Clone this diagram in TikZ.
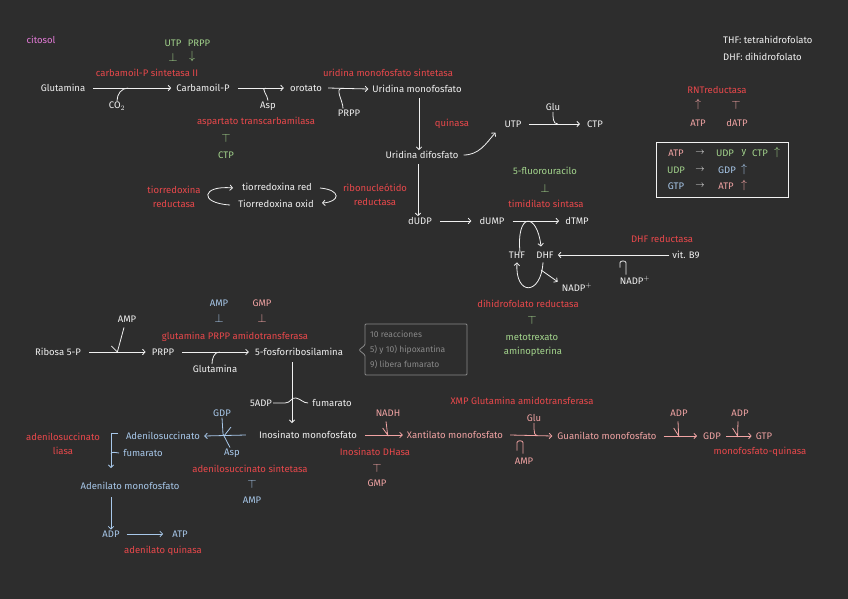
\documentclass[tikz,border=0pt]{standalone}
\usepackage{fontspec}
\setmainfont{Fira Sans}
\usepackage{tikz}
\usetikzlibrary{arrows.meta,calc,positioning}
\definecolor{fondo}{HTML}{2D2D2D}
\definecolor{ink}{HTML}{F0F0F0}
\definecolor{rojo}{HTML}{E8484B}
\definecolor{verde}{HTML}{A3D48C}
\definecolor{rosa}{HTML}{F0A3A3}
\definecolor{azul}{HTML}{A8C8EA}
\definecolor{magenta}{HTML}{E27AD6}
\definecolor{gris}{HTML}{8A8A8A}
\tikzset{
  sp/.style={text=ink,inner sep=1pt,font=\fontsize{9.5}{14}\selectfont},
  enz/.style={sp,text=rojo},
  grn/.style={sp,text=verde},
  pnk/.style={sp,text=rosa},
  blu/.style={sp,text=azul},
  mag/.style={sp,text=magenta},
  sym/.style={inner sep=0pt,font=\fontsize{12}{12}\selectfont},
  nota/.style={sp,text=gris,align=left,font=\fontsize{8.5}{15}\selectfont},
  ln/.style={draw=ink,line width=.8pt},
  rx/.style={ln,-{Straight Barb[length=2.6pt,width=5.5pt]}},
  lnp/.style={ln,draw=rosa},
  rxp/.style={rx,draw=rosa},
  lnb/.style={ln,draw=azul},
  rxb/.style={rx,draw=azul}
}
\begin{document}
\begin{tikzpicture}[x=1pt,y=1pt]
  \fill[fondo] (0,0) rectangle (848,-599);
  \useasboundingbox (0,0) rectangle (848,-599);

  % pirimidinas
  \node[mag] (citosol) at (41,-40) {citosol};
  \node[grn] (utpi) at (173,-43) {UTP};
  \node[grn] (prppa) at (199,-43) {PRPP};
  \node[grn,sym] (inh1) at (173,-57) {$\perp$};
  \node[grn,sym] (act1) at (192,-57) {$\downarrow$};
  \node[enz] (cps) at (147,-73) {carbamoil-P sintetasa II};
  \node[sp] (glutamina) at (63,-88) {Glutamina};
  \node[sp] (carbp) at (203,-88) {Carbamoil-P};
  \node[sp] (co2) at (117,-106) {CO$_2$};
  \node[sp] (orotato) at (306,-88) {orotato};
  \node[sp] (asp1) at (268,-106) {Asp};
  \node[enz] (atc) at (256,-122) {aspartato transcarbamilasa};
  \node[grn,sym] (inh2) at (226,-138) {$\top$};
  \node[grn] (ctpi) at (226,-155) {CTP};
  \node[enz] (umps) at (388,-73) {uridina monofosfato sintetasa};
  \node[sp] (ump) at (417,-89) {Uridina monofosfato};
  \node[sp] (prpp1) at (349,-113) {PRPP};
  \node[enz] (quin) at (452,-124) {quinasa};
  \node[sp] (udp) at (422,-155) {Uridina difosfato};
  \node[sp] (utp) at (513,-124) {UTP};
  \node[sp] (ctp) at (595,-124) {CTP};
  \node[sp] (glu1) at (553,-107) {Glu};

  \draw[rx] (93,-88) -- coordinate[pos=.45] (m1) ([xshift=-4pt]carbp.west);
  \draw[ln] (co2.north) to[out=90,in=180] (m1);
  \draw[rx] (carbp.east) ++(7,0) -- coordinate[pos=.6] (m2) ([xshift=-5pt]orotato.west);
  \draw[ln] (asp1.north) to[out=90,in=180] (m2);
  \draw[rx] ([xshift=5pt]orotato.east) -- coordinate[pos=.35] (m3) ([xshift=-3pt]ump.west);
  \draw[ln] (prpp1.north) ++(-6,0) to[out=90,in=180] (m3);
  \draw[rx] ([xshift=2pt]ump.south) ++(0,-4) -- ([xshift=2pt]ump.south |- udp.north);
  \draw[rx] ([xshift=4pt]udp.east) to[out=0,in=-130] ([xshift=-8pt,yshift=-4pt]utp.south west);
  \draw[rx] ([xshift=6pt]utp.east) -- coordinate[pos=.45] (m4) ([xshift=-6pt]ctp.west);
  \draw[ln] (glu1.south) to[out=-90,in=180] ([xshift=6pt]m4);

  % leyenda
  \node[sp,anchor=west] (thfdef) at (722,-40) {THF: tetrahidrofolato};
  \node[sp,anchor=west] (dhfdef) at (722,-57) {DHF: dihidrofolato};
  \node[enz] (rnt) at (717,-90) {RNTreductasa};
  \node[pnk,sym] (act2) at (698,-105) {$\uparrow$};
  \node[pnk,sym] (inh3) at (736,-105) {$\top$};
  \node[pnk] (atpr) at (698,-123) {ATP};
  \node[pnk] (datp) at (737,-123) {dATP};
  \draw[ln,draw=ink!85] (656,-142) rectangle (788,-197);
  \node[pnk] (l1a) at (676,-153) {ATP};
  \node[sp] (l1r) at (700,-153) {$\rightarrow$};
  \node[grn] (l1b) at (725,-153) {UDP};
  \node[grn] (l1y) at (744,-153) {y};
  \node[grn] (l1c) at (760,-153) {CTP};
  \node[grn,sym] (l1u) at (777,-152) {$\uparrow$};
  \node[grn] (l2a) at (676,-170) {UDP};
  \node[sp] (l2r) at (700,-170) {$\rightarrow$};
  \node[blu] (l2b) at (727,-170) {GDP};
  \node[blu,sym] (l2u) at (744,-169) {$\uparrow$};
  \node[blu] (l3a) at (676,-186) {GTP};
  \node[sp] (l3r) at (700,-186) {$\rightarrow$};
  \node[pnk] (l3b) at (726,-186) {ATP};
  \node[pnk,sym] (l3u) at (744,-185) {$\uparrow$};

  % desoxirribonucleotidos
  \node[enz,align=center] (trr) at (174,-197) {tiorredoxina\\reductasa};
  \node[sp] (trxred) at (277,-187) {tiorredoxina red};
  \node[sp] (trxox) at (276,-204) {Tiorredoxina oxid};
  \node[enz,align=center] (rnr) at (375,-195) {ribonucleótido\\reductasa};
  \draw[rx] (230,-205) .. controls (198,-203) and (202,-185) .. (233,-188);
  \draw[rx] (320,-188) .. controls (342,-190) and (340,-202) .. (322,-203);
  \node[sp] (dudp) at (420,-221) {dUDP};
  \node[sp] (dump) at (492,-221) {dUMP};
  \draw[rx] ([xshift=-4pt]udp.south) ++(0,-4) -- ([xshift=-4pt]udp.south |- dudp.north);
  \node[grn] (fu) at (545,-171) {5-fluorouracilo};
  \node[grn,sym] (inh4) at (545,-188) {$\perp$};
  \node[enz] (ts) at (546,-204) {timidilato sintasa};
  \node[sp] (dtmp) at (577,-221) {dTMP};
  \node[sp] (thf) at (517,-255) {THF};
  \node[sp] (dhf) at (545,-255) {DHF};
  \node[sp] (vitb) at (686,-255) {vit. B9};
  \node[enz] (dhfr1) at (662,-239) {DHF reductasa};
  \node[sp] (nadp2) at (635,-280) {NADP$^+$};
  \node[sp] (nadp1) at (577,-287) {NADP$^+$};
  \draw[rx] ([xshift=7pt]dudp.east) -- ([xshift=-7pt]dump.west);
  \draw[rx] ([xshift=7pt]dump.east) -- ([xshift=-5pt]dtmp.west);
  \draw[rx] (thf.north) ++(3,-2) .. controls (516,-212) and (537,-212) .. ([xshift=-4pt,yshift=4pt]dhf.north);
  \draw[rx] ([xshift=-2pt]dhf.south) ++(0,-3) .. controls (541,-296) and (515,-296) .. ([yshift=-3pt]thf.south);
  \draw[rx] (541,-270) -- ([xshift=-3pt]nadp1.north west);
  \draw[rx] ([xshift=-2pt]vitb.west) -- coordinate[pos=.5] (m5) ([xshift=3pt]dhf.east);
  \draw[ln] ([xshift=-9pt]nadp2.north) -- ++(0,12) to[out=90,in=90] ++(-6,0) -- ++(0,-5);
  \node[enz] (dhfr2) at (528,-304) {dihidrofolato reductasa};
  \node[grn,sym] (inh5) at (532,-320) {$\top$};
  \node[grn] (mtx) at (532,-337) {metotrexato};
  \node[grn] (amn) at (533,-352) {aminopterina};

  % purinas
  \node[sp] (ribosa) at (58,-352) {Ribosa 5-P};
  \node[sp] (amp1) at (127,-319) {AMP};
  \node[sp] (prpp2) at (163,-352) {PRPP};
  \node[blu] (ampi) at (219,-303) {AMP};
  \node[blu,sym] (inh6) at (219,-318) {$\perp$};
  \node[pnk] (gmpi) at (262,-303) {GMP};
  \node[pnk,sym] (inh7) at (262,-318) {$\perp$};
  \node[enz] (gpat) at (235,-337) {glutamina PRPP amidotransferasa};
  \node[sp] (fra) at (299,-352) {5-fosforribosilamina};
  \node[sp] (glutamina2) at (215,-369) {Glutamina};
  \draw[rx] ([xshift=7pt]ribosa.east) -- coordinate[pos=.5] (m6) ([xshift=-5pt]prpp2.west);
  \draw[ln] ([xshift=-3pt]amp1.south) ++(0,-4) -- (m6) -- ++(-6,6);
  \draw[rx] ([xshift=7pt]prpp2.east) -- coordinate[pos=.5] (m7) ([xshift=-5pt]fra.west);
  \draw[ln] ([xshift=-3pt]glutamina2.north) to[out=90,in=180] ([xshift=4pt]m7);
  \node[nota,anchor=west] (notas) at (369,-350) {10 reacciones\\5) y 10) hipoxantina\\9) libera fumarato};
  \draw[draw=gris,line width=.8pt,rounded corners=1pt] (365,-324) -- (467,-324) -- (467,-375) -- (365,-375) -- (365,-355) -- (359,-350) -- (365,-345) -- cycle;

  \node[sp] (sadp) at (261,-403) {5ADP};
  \node[sp] (fumarato) at (332,-403) {fumarato};
  \node[sp] (imp) at (308,-435) {Inosinato monofosfato};
  \draw[rx] (292,-362) -- (292,-423);
  \draw[ln] (sadp.east) -- (285,-403) .. controls (291,-403) and (291,-397) .. (296,-398) .. controls (301,-399) and (303,-403) .. ([xshift=-3pt]fumarato.west);

  \node[pnk] (nadh) at (388,-413) {NADH};
  \node[pnk] (xmp) at (455,-435) {Xantilato monofosfato};
  \node[enz] (impdh) at (375,-452) {Inosinato DHasa};
  \node[pnk,sym] (inh8) at (377,-468) {$\top$};
  \node[pnk] (gmpi2) at (377,-483) {GMP};
  \node[enz] (xmpat) at (522,-401) {XMP Glutamina amidotransferasa};
  \node[pnk] (glu2) at (534,-418) {Glu};
  \node[pnk] (amp3) at (524,-461) {AMP};
  \node[pnk] (gmp) at (607,-436) {Guanilato monofosfato};
  \node[pnk] (adp1) at (679,-413) {ADP};
  \node[pnk] (gdp) at (712,-436) {GDP};
  \node[pnk] (adp2) at (740,-413) {ADP};
  \node[pnk] (gtp) at (764,-436) {GTP};
  \node[enz] (mfq) at (760,-452) {monofosfato-quinasa};
  \draw[rxp] (365,-435) -- coordinate[pos=.6] (m8) ([xshift=-3pt]xmp.west);
  \draw[lnp] (nadh.south) ++(-2,-4) -- (m8) -- ++(-5,7);
  \draw[rxp] ([xshift=6pt]xmp.east) -- coordinate[pos=.55] (m9) ([xshift=-4pt]gmp.west);
  \draw[lnp] (glu2.south) -- ++(0,-6) to[out=-90,in=180] ([xshift=4pt]m9);
  \draw[lnp] (amp3.north) ++(-1,3) -- ++(0,11) to[out=90,in=90] ++(-6,0) -- ++(0,-8);
  \draw[rxp] ([xshift=6pt]gmp.east) -- coordinate[pos=.45] (m10) ([xshift=-5pt]gdp.west);
  \draw[lnp] (adp1.south) ++(-1,-4) -- (m10) -- ++(-5,8);
  \draw[rxp] ([xshift=4pt]gdp.east) -- coordinate[pos=.45] (m11) ([xshift=-3pt]gtp.west);
  \draw[lnp] (adp2.south) ++(-2,-4) -- (m11) -- ++(-5,8);

  \node[enz,align=center] (asl) at (63,-444) {adenilosuccinato\\liasa};
  \node[blu] (adsuc) at (163,-436) {Adenilosuccinato};
  \node[blu] (gdp2) at (222,-413) {GDP};
  \node[blu] (asp2) at (232,-453) {Asp};
  \node[enz] (adss) at (250,-469) {adenilosuccinato sintetasa};
  \node[blu,sym] (inh9) at (252,-484) {$\top$};
  \node[blu] (ampi2) at (252,-500) {AMP};
  \node[blu] (fum2) at (143,-453) {fumarato};
  \node[blu] (ampm) at (130,-486) {Adenilato monofosfato};
  \node[blu] (adp3) at (111,-534) {ADP};
  \node[blu] (atp3) at (180,-534) {ATP};
  \node[enz] (adk) at (163,-551) {adenilato quinasa};
  \draw[rxb] ([xshift=-12pt]imp.west) -- ([xshift=3pt]adsuc.east);
  \draw[lnb] (gdp2.south) -- (223,-434) -- ([xshift=-2pt]asp2.north);
  \draw[lnb] (224,-436) -- (231,-427);
  \draw[rxb] (118,-433) -- (111,-433) -- coordinate[pos=.6] (m12) (111,-468);
  \draw[lnb] (m12) to[out=80,in=180] ([xshift=-3pt]fum2.west);
  \draw[rxb] (111,-497) -- (adp3.north);
  \draw[rxb] ([xshift=6pt]adp3.east) -- ([xshift=-8pt]atp3.west);
\end{tikzpicture}
\end{document}
